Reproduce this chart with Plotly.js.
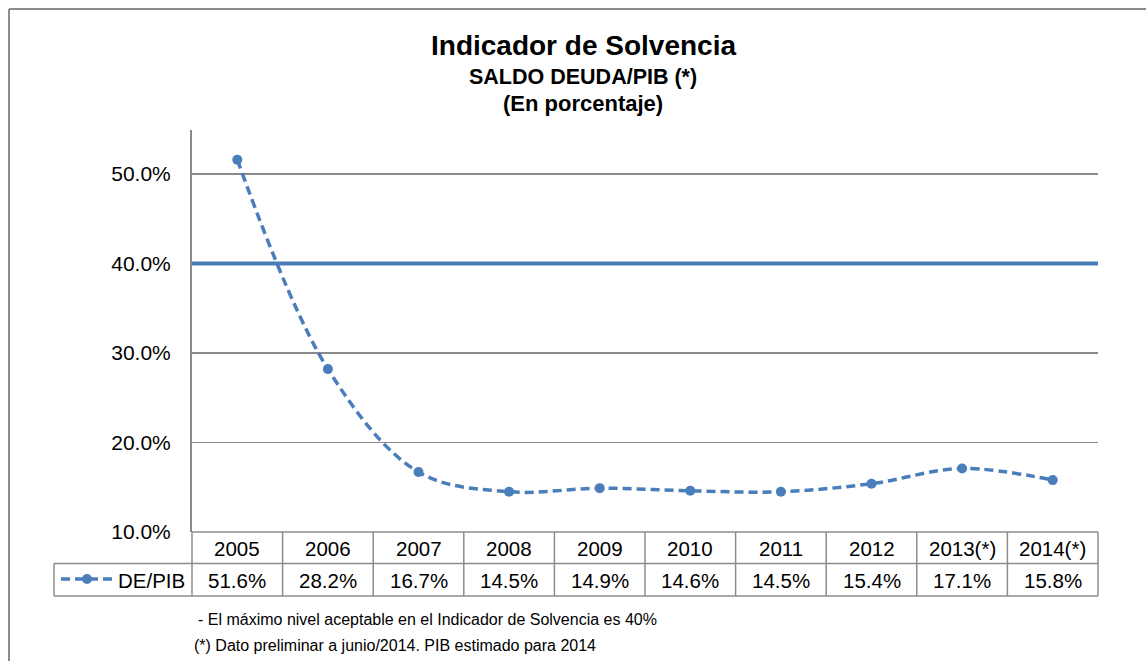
<!DOCTYPE html>
<html>
<head>
<meta charset="utf-8">
<script src="https://cdn.plot.ly/plotly-3.0.1.min.js"></script>
<style>html,body{margin:0;padding:0;background:#fff;}#chart{width:1146px;height:661px;}</style>
</head>
<body>
<div id="chart"></div>
<script>
// ---- data ----
var years = ["2005","2006","2007","2008","2009","2010","2011","2012","2013(*)","2014(*)"];
var dePib = [51.6, 28.2, 16.7, 14.5, 14.9, 14.6, 14.5, 15.4, 17.1, 15.8];
var limitValue = 40;
var yTicks = [10, 20, 30, 40, 50];
var seriesName = "DE/PIB";
var titleText = "Indicador de Solvencia";
var subtitle1 = "SALDO DEUDA/PIB (*)";
var subtitle2 = "(En porcentaje)";
var note1 = "- El máximo nivel aceptable en el Indicador de Solvencia es 40%";
var note2 = "(*) Dato preliminar a junio/2014. PIB estimado para 2014";

// ---- layout helpers (pixel -> paper) ----
var W = 1146, H = 661, L = 192, R = 1098, T = 130, B = 532;
function px(x){ return (x - L) / (R - L); }
function py(y){ return (B - y) / (B - T); }

var blue = "#4a7ebb";
var gridC = "#8a8a8a";
var font = "Liberation Sans, Arial, sans-serif";
var dashPat = "9px,5px";

var shapes = [];
var annotations = [];

// outer border (top and left)
shapes.push({type:"line", xref:"paper", yref:"paper", x0:px(9), x1:px(W), y0:py(9), y1:py(9), line:{color:"#8c8c8c", width:2}});
shapes.push({type:"line", xref:"paper", yref:"paper", x0:px(9), x1:px(9), y0:py(9), y1:py(H), line:{color:"#8c8c8c", width:2}});

// limit line
shapes.push({type:"line", xref:"paper", yref:"y", x0:0, x1:1, y0:limitValue, y1:limitValue, line:{color:blue, width:4}});

// data table lines
var tc = "#8c8c8c";
shapes.push({type:"line", xref:"paper", yref:"paper", x0:0, x1:1, y0:py(532), y1:py(532), line:{color:tc, width:1.5}});
shapes.push({type:"line", xref:"paper", yref:"paper", x0:px(54), x1:1, y0:py(563.5), y1:py(563.5), line:{color:tc, width:1.5}});
shapes.push({type:"line", xref:"paper", yref:"paper", x0:px(54), x1:1, y0:py(596), y1:py(596), line:{color:tc, width:1.5}});
shapes.push({type:"line", xref:"paper", yref:"paper", x0:px(54), x1:px(54), y0:py(563.5), y1:py(596), line:{color:tc, width:1.5}});
for (var i = 0; i <= years.length; i++) {
  shapes.push({type:"line", xref:"paper", yref:"paper", x0:i/years.length, x1:i/years.length, y0:py(532), y1:py(596), line:{color:tc, width:1.5}});
}

// table text
for (var j = 0; j < years.length; j++) {
  annotations.push({xref:"x", yref:"paper", x:j, y:py(548), text:years[j], showarrow:false, xanchor:"center", yanchor:"middle", font:{family:font, size:20.5, color:"#000"}});
  annotations.push({xref:"x", yref:"paper", x:j, y:py(580), text:dePib[j].toFixed(1) + "%", showarrow:false, xanchor:"center", yanchor:"middle", font:{family:font, size:20.5, color:"#000"}});
}

// legend key in table
shapes.push({type:"line", xref:"paper", yref:"paper", x0:px(61), x1:px(113), y0:py(579), y1:py(579), line:{color:blue, width:3.5, dash:dashPat}});
shapes.push({type:"circle", xref:"paper", yref:"paper", x0:px(82), x1:px(92), y0:py(574), y1:py(584), fillcolor:blue, line:{color:blue, width:0}});
annotations.push({xref:"paper", yref:"paper", x:px(187), y:py(580), text:seriesName, showarrow:false, xanchor:"right", yanchor:"middle", font:{family:font, size:20.5, color:"#000"}});

// titles
annotations.push({xref:"paper", yref:"paper", x:px(583), y:py(45), text:"<b>"+titleText+"</b>", showarrow:false, xanchor:"center", yanchor:"middle", font:{family:font, size:28, color:"#000"}});
annotations.push({xref:"paper", yref:"paper", x:px(583), y:py(77), text:"<b>"+subtitle1+"</b>", showarrow:false, xanchor:"center", yanchor:"middle", font:{family:font, size:21.5, color:"#000"}});
annotations.push({xref:"paper", yref:"paper", x:px(583), y:py(104), text:"<b>"+subtitle2+"</b>", showarrow:false, xanchor:"center", yanchor:"middle", font:{family:font, size:22, color:"#000"}});

// notes
annotations.push({xref:"paper", yref:"paper", x:px(196), y:py(619), text:note1, showarrow:false, xanchor:"left", yanchor:"middle", font:{family:font, size:16, color:"#000"}});
annotations.push({xref:"paper", yref:"paper", x:px(192), y:py(645), text:note2, showarrow:false, xanchor:"left", yanchor:"middle", font:{family:font, size:16, color:"#000"}});

var trace = {
  type:"scatter", mode:"lines+markers", name:seriesName,
  x: years.map(function(_, k){ return k; }), y: dePib,
  line:{color:blue, width:3.5, dash:dashPat, shape:"spline", smoothing:1},
  marker:{color:blue, size:10},
  cliponaxis:false, hoverinfo:"skip"
};

var layout = {
  width:W, height:H,
  margin:{l:L, r:W-R, t:T, b:H-B, pad:0},
  paper_bgcolor:"#fff", plot_bgcolor:"#fff",
  showlegend:false,
  xaxis:{range:[-0.5, years.length-0.5], showgrid:false, zeroline:false, showticklabels:false, ticks:"", showline:false, fixedrange:true},
  yaxis:{range:[10, 10 + (B-T)/8.95], tickvals:yTicks, ticktext:yTicks.map(function(v){return v.toFixed(1)+"%";}),
         showgrid:true, gridcolor:gridC, gridwidth:1.3, zeroline:false, showline:true, linecolor:"#8a8a8a", linewidth:2,
         ticks:"", ticklabelstandoff:15, tickfont:{family:font, size:21, color:"#000"}, fixedrange:true},
  shapes:shapes, annotations:annotations,
  font:{family:font}
};

Plotly.newPlot("chart", [trace], layout, {staticPlot:true, displayModeBar:false});
</script>
</body>
</html>
